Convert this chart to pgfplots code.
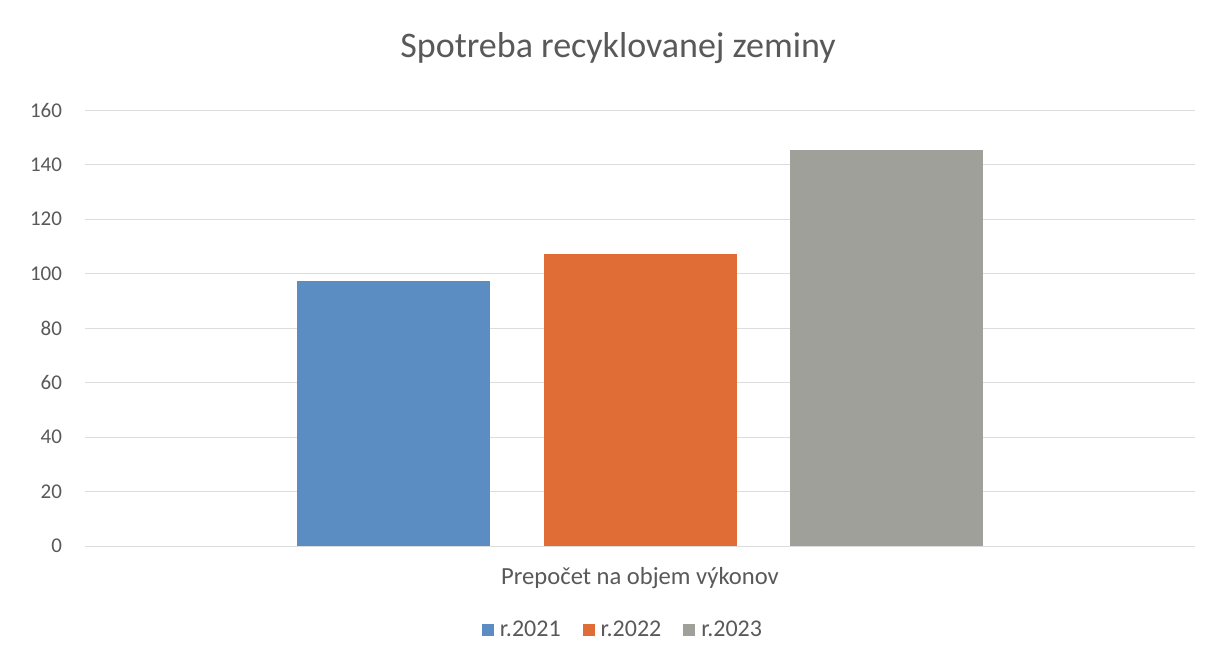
\documentclass[border=0pt]{standalone}
\usepackage{pgfplots}
\pgfplotsset{compat=1.18}
\usepackage{fontspec}
\setmainfont{Carlito}
\definecolor{c1}{HTML}{5B8CC2}
\definecolor{c2}{HTML}{E06C36}
\definecolor{c3}{HTML}{A0A09A}
\definecolor{txt}{HTML}{595959}
\definecolor{grd}{HTML}{DDDDDD}
\begin{document}
\begin{tikzpicture}
\path[fill=white] (0,0) rectangle (607pt,330.5pt);
\begin{axis}[
  at={(42.5pt,57.5pt)}, anchor=south west,
  scale only axis, width=555pt, height=218pt,
  ybar=26.5pt, bar width=96.5pt,
  xmin=-0.5, xmax=0.5, ymin=0, ymax=160,
  ytick={0,20,...,160},
  xtick={0}, xticklabels={Prepočet na objem výkonov},
  xticklabel style={anchor=center, yshift=-16pt, font=\fontsize{12.3}{14}\selectfont, text=txt},
  yticklabel style={font=\fontsize{10.5}{12}\selectfont, text=txt, xshift=-8pt},
  /pgf/number format/assume math mode=true,
  axis line style={draw=none},
  major tick length=0pt,
  ymajorgrids, grid style={grd, line width=0.5pt},
  title={Spotreba recyklovanej zeminy},
  title style={at={(0.5,1)}, anchor=center, yshift=25pt, xshift=-11pt, font=\fontsize{18}{21}\selectfont, text=txt},
  legend style={at={(0.5,0)}, anchor=center, yshift=-42pt, xshift=-8pt, draw=none, fill=none,
    font=\fontsize{12}{14}\selectfont, text=txt, legend columns=-1,
    /tikz/every odd column/.append style={column sep=1pt},
    /tikz/every even column/.append style={column sep=9pt}},
  legend image code/.code={\fill[#1] (0pt,-3pt) rectangle (6pt,3pt);},
]
\addplot[fill=c1, draw=none] coordinates {(0,97.3)};
\addplot[fill=c2, draw=none] coordinates {(0,107.3)};
\addplot[fill=c3, draw=none] coordinates {(0,145.2)};
\legend{r.2021, r.2022, r.2023}
\end{axis}
\end{tikzpicture}
\end{document}
